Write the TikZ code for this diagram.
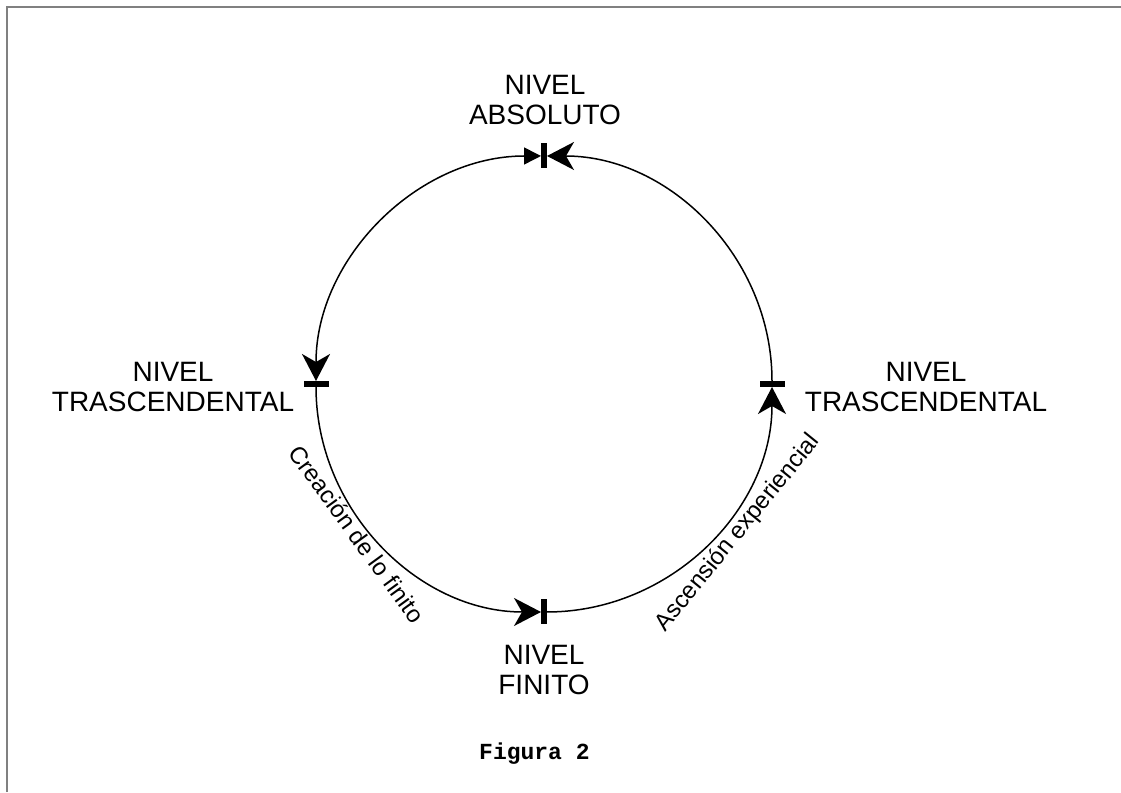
\documentclass[tikz,border=0pt]{standalone}
\usepackage{fontspec}
\setmainfont{Liberation Sans}
\setmonofont{Liberation Mono}
\usetikzlibrary{arrows.meta}

\begin{document}
\begin{tikzpicture}[x=1pt,y=1pt,
    level/.style={align=center,inner sep=0pt,anchor=north,font=\fontsize{28}{30}\selectfont},
    arclabel/.style={inner sep=0pt,font=\fontsize{24}{26}\selectfont},
    ringline/.style={line width=1.5pt,shorten <=3pt,shorten >=3pt},
    stealthtip/.style={Stealth[length=27pt,width=28pt,inset=8pt]}]

    \useasboundingbox (0,0) rectangle (1121,792);

    \def\rr{228}
    \def\vbar{+(-3,-12.5) rectangle +(3,12.5)}
    \def\hbar{+(-12.5,-3) rectangle +(12.5,3)}

    %frame:
    \draw[gray,line width=2pt] (7,0) |- (1121,785);

    %levels on the ring:
    \coordinate (absoluto) at (544,636);
    \coordinate (trasizq) at (316,408);
    \coordinate (trasder) at (772,408);
    \coordinate (finito) at (544,180);

    %draw arcs:
    \draw[ringline,{Stealth[length=27pt,width=28pt,inset=8pt]}-{Triangle[length=17pt,width=17pt]}]
        (trasizq) arc[start angle=180,end angle=90,radius=\rr];
    \draw[ringline,-{Stealth[length=27pt,width=28pt,inset=8pt]}]
        (trasder) arc[start angle=0,end angle=90,radius=\rr];
    \draw[ringline,-{Stealth[length=27pt,width=28pt,inset=8pt]}]
        (finito) arc[start angle=270,end angle=360,radius=\rr];
    \draw[ringline,-{Stealth[length=27pt,width=28pt,inset=8pt]}]
        (trasizq) arc[start angle=180,end angle=270,radius=\rr];

    %draw bars:
    \fill (absoluto) \vbar;
    \fill (finito) \vbar;
    \fill (trasizq) \hbar;
    \fill (trasder) \hbar;

    %labels:
    \node[level] (nabs) at (545,717) {NIVEL\\ABSOLUTO};
    \node[level] (nizq) at (173,430) {NIVEL\\TRASCENDENTAL};
    \node[level] (nder) at (926,430) {NIVEL\\TRASCENDENTAL};
    \node[level] (nfin) at (544,147) {NIVEL\\FINITO};

    \node[arclabel,rotate=-54] (creacion) at (357,258) {Creación de lo finito};
    \node[arclabel,rotate=51] (ascension) at (738,259) {Ascensión experiencial};

    \node[anchor=base west,inner sep=0pt,font=\fontsize{23}{25}\selectfont\ttfamily\bfseries] (figura) at (479,32) {Figura 2};

\end{tikzpicture}
\end{document}
